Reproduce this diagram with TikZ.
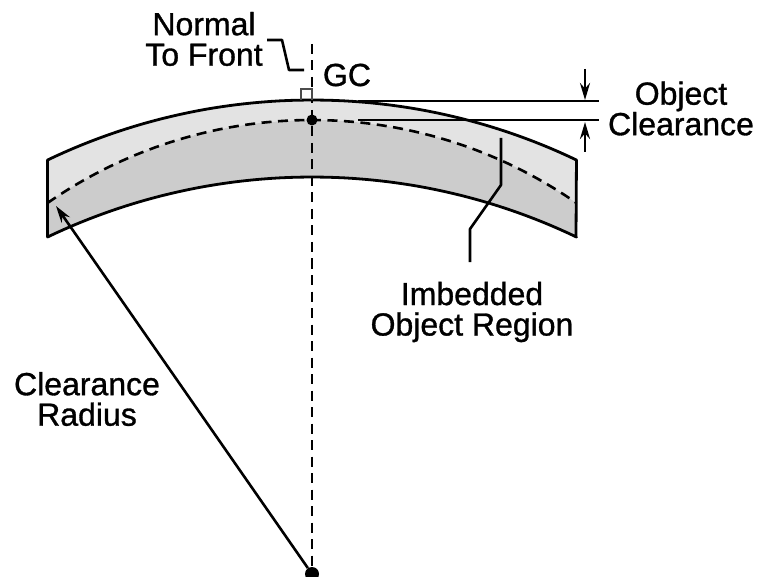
\documentclass[tikz,border=0pt]{standalone}
\usepackage{fontspec}
\setmainfont[FakeBold=1]{Liberation Sans}
\usetikzlibrary{arrows.meta}
\definecolor{lightband}{HTML}{E3E3E3}
\definecolor{darkband}{HTML}{CCCCCC}
\tikzset{
  x=1pt,y=-1pt,
  lbl/.style={align=center,inner sep=0pt,font=\fontsize{32}{30.5}\selectfont,text=black},
  edge/.style={line width=2.8pt,black,line join=round,line cap=round},
  thin line/.style={line width=2.6pt,black},
  ptr/.style={line width=2.6pt,black,-{Stealth[length=17pt,width=10pt]}},
  dashline/.style={line width=2.6pt,black,dash pattern=on 10pt off 6.5pt},
  dot/.style={circle,fill=black,inner sep=0pt,minimum size=#1}
}
\begin{document}
\begin{tikzpicture}
\useasboundingbox (0,0) rectangle (757,577);
% bands
\fill[lightband] plot[domain=-25.56:25.56,samples=60] ({312+613*sin(\x)},{713-613*cos(\x)})
  -- plot[domain=34.84:-34.84,samples=60] ({312+463*sin(\x)},{583-463*cos(\x)}) -- cycle;
\fill[darkband] plot[domain=-34.84:34.84,samples=60] ({312+463*sin(\x)},{583-463*cos(\x)})
  -- plot[domain=25.56:-25.56,samples=60] ({312+613*sin(\x)},{790-613*cos(\x)}) -- cycle;
% dashed arc
\draw[dashline] plot[domain=-34.84:34.84,samples=80] ({312+463*sin(\x)},{583-463*cos(\x)});
% outline
\draw[edge] plot[domain=-25.56:25.56,samples=60] ({312+613*sin(\x)},{713-613*cos(\x)})
  -- (576,237)
  -- plot[domain=25.56:-25.56,samples=60] ({312+613*sin(\x)},{790-613*cos(\x)}) -- cycle;
% named points
\node[dot=14pt] (center) at (312,574) {};
\node[dot=11pt] (gcdot) at (312,120) {};
\coordinate (axistop) at (312,44);
\coordinate (rim) at (56,206);
\coordinate (l1a) at (358,101);
\coordinate (l1b) at (599,101);
\coordinate (l2a) at (358,120);
\coordinate (l2b) at (599,120);
\coordinate (a1s) at (585,69);
\coordinate (a1e) at (585,100);
\coordinate (a2s) at (585,152);
\coordinate (a2e) at (585,122);
% axis
\draw[dashline] (axistop) -- (center);
% right-angle box
\draw[line width=1.8pt,black!70] (301,100) -- (301,89) -- (312,89) -- (312,100);
% leaders
\draw[thin line,line join=round] (267,40) -- (282,40) -- (289,70) -- (304,70);
\draw[thin line] (l1a) -- (l1b);
\draw[thin line] (l2a) -- (l2b);
\draw[ptr] (a1s) -- (a1e);
\draw[ptr] (a2s) -- (a2e);
\draw[thin line,line join=round] (501,138) -- (501,185) -- (470,229) -- (470,262);
\draw[ptr] (center) -- (rim);
% labels
\node[lbl] (normal) at (204,39) {Normal\\To Front};
\node[lbl] (gc) at (347,75) {GC};
\node[lbl] (oc) at (681,108.5) {Object\\Clearance};
\node[lbl] (ior) at (472,312) {Imbedded\\Object Region};
\node[lbl] (cr) at (87,399) {Clearance\\Radius};
\end{tikzpicture}
\end{document}
